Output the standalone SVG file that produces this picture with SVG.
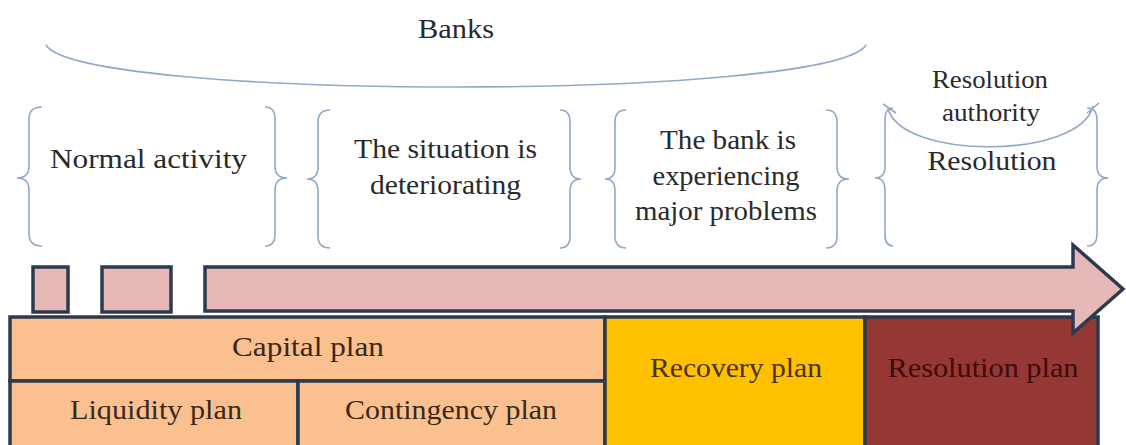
<svg xmlns="http://www.w3.org/2000/svg" width="1126" height="445" viewBox="0 0 1126 445">
<style>
.t{font-family:'Liberation Serif','Times New Roman',Times,'DejaVu Serif','Noto Serif',serif;font-size:28px;fill:#2a2a2a;text-anchor:middle}
.br{fill:none;stroke:#8fa9c9;stroke-width:1.6}
.box{stroke:#2b3a4f;stroke-width:3.5}
</style>
<rect width="1126" height="445" fill="#ffffff"/>
<g id="banks">
<path class="br" d="M46,45 C80,101 830,101 866,45"/>
<text class="t" x="456" y="38" textLength="76" lengthAdjust="spacingAndGlyphs" font-family="Liberation Serif">Banks</text>
</g>
<g id="normal">
<path class="br" d="M42,107 Q29,107 29,119 L29,166 Q29,178 17,178 Q29,178 29,190 L29,234 Q29,246 42,246"/>
<path class="br" d="M265,107 Q275,107 275,119 L275,166 Q275,178 287,178 Q275,178 275,190 L275,234 Q275,246 265,246"/>
<text class="t" x="148.5" y="168" textLength="197" lengthAdjust="spacingAndGlyphs">Normal activity</text>
</g>
<g id="deteriorating">
<path class="br" d="M330,110 Q318,110 318,122 L318,167 Q318,179 307,179 Q318,179 318,191 L318,236 Q318,248 330,248"/>
<path class="br" d="M560,110 Q570,110 570,122 L570,167 Q570,179 581,179 Q570,179 570,191 L570,236 Q570,248 560,248"/>
<text class="t" x="445.5" y="158" textLength="183" lengthAdjust="spacingAndGlyphs">The situation is</text>
<text class="t" x="445.5" y="194" textLength="151" lengthAdjust="spacingAndGlyphs">deteriorating</text>
</g>
<g id="problems">
<path class="br" d="M626,110 Q615,110 615,122 L615,167 Q615,179 605,179 Q615,179 615,191 L615,236 Q615,248 626,248"/>
<path class="br" d="M826,110 Q837,110 837,122 L837,167 Q837,179 849,179 Q837,179 837,191 L837,236 Q837,248 826,248"/>
<text class="t" x="728" y="149" textLength="136" lengthAdjust="spacingAndGlyphs">The bank is</text>
<text class="t" x="726" y="185" textLength="147" lengthAdjust="spacingAndGlyphs">experiencing</text>
<text class="t" x="726" y="220" textLength="182" lengthAdjust="spacingAndGlyphs">major problems</text>
</g>
<g id="resolution">
<path class="br" d="M893,108 Q885,108 885,120 L885,166 Q885,178 875,178 Q885,178 885,190 L885,234 Q885,246 893,246"/>
<path class="br" d="M1087,108 Q1097,108 1097,120 L1097,166 Q1097,178 1108,178 Q1097,178 1097,190 L1097,234 Q1097,246 1087,246"/>
<path class="br" d="M888,108 C900,160 1080,160 1093,106"/>
<path class="br" d="M883,104 L896,113 M1087,113 L1099,103"/>
<text class="t" x="990" y="88" style="font-size:26px" textLength="116" lengthAdjust="spacingAndGlyphs">Resolution</text>
<text class="t" x="991" y="121" style="font-size:26px" textLength="98" lengthAdjust="spacingAndGlyphs">authority</text>
<text class="t" x="992" y="170" textLength="129" lengthAdjust="spacingAndGlyphs">Resolution</text>
</g>
<g id="capital">
<rect class="box" x="10" y="317" width="595" height="64" fill="#fac090"/>
<text class="t" style="fill:#3a2818" x="308" y="356" textLength="152" lengthAdjust="spacingAndGlyphs">Capital plan</text>
</g>
<g id="liquidity">
<rect class="box" x="10" y="381" width="288" height="70" fill="#fac090"/>
<text class="t" style="fill:#3a2818" x="156" y="419" textLength="172" lengthAdjust="spacingAndGlyphs">Liquidity plan</text>
</g>
<g id="contingency">
<rect class="box" x="298" y="381" width="307" height="70" fill="#fac090"/>
<text class="t" style="fill:#3a2818" x="451" y="419" textLength="212" lengthAdjust="spacingAndGlyphs">Contingency plan</text>
</g>
<g id="recovery">
<rect class="box" x="605" y="317" width="260" height="134" fill="#ffc000"/>
<text class="t" style="fill:#4a3000" x="736" y="377" textLength="172" lengthAdjust="spacingAndGlyphs">Recovery plan</text>
</g>
<g id="resolution-plan">
<rect class="box" x="865" y="317" width="233" height="134" fill="#953735"/>
<text class="t" style="fill:#3d0c0c" x="983" y="377" textLength="191" lengthAdjust="spacingAndGlyphs">Resolution plan</text>
</g>
<g id="timeline">
<rect class="box" x="33" y="267" width="35" height="45" fill="#e6b9b8"/>
<rect class="box" x="102" y="267" width="69" height="45" fill="#e6b9b8"/>
<path class="box" d="M205,267 L1073,267 L1073,245 L1123,289 L1073,333 L1073,311 L205,311 Z" fill="#e6b9b8" stroke-linejoin="miter"/>
</g>
</svg>
